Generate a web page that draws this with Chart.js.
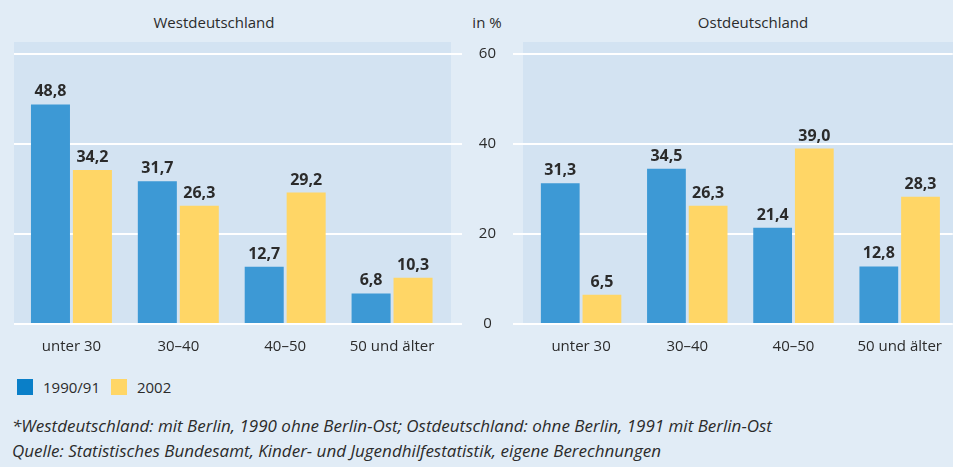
<!DOCTYPE html>
<html>
<head>
<meta charset="utf-8">
<script src="https://cdn.jsdelivr.net/npm/chart.js@4.4.1/dist/chart.umd.min.js"></script>
<style>
  html, body { margin: 0; padding: 0; background: #e1ecf6; }
  #wrap { position: relative; width: 953px; height: 467px; overflow: hidden; background: #e1ecf6;
          font-family: "Open Sans", sans-serif; color: #2b2b2b; }
  .box { position: absolute; }
  .ttl { position: absolute; font-size: 15px; transform: translateX(-50%); white-space: nowrap; }
  .legend { position: absolute; left: 17px; top: 377px; font-size: 15px; display: flex; align-items: center; }
  .legend span.sw { display: inline-block; width: 16px; height: 16px; margin-right: 10px; }
  .legend span.tx { margin-right: 11px; }
  .note { position: absolute; left: 12px; font-size: 17px; font-style: italic; white-space: nowrap; }
</style>
</head>
<body>
<div id="wrap">
  <div class="ttl" style="left:214px; top:12px;">Westdeutschland</div>
  <div class="ttl" style="left:487px; top:12px;">in %</div>
  <div class="ttl" style="left:753px; top:12px;">Ostdeutschland</div>
  <div class="box" style="left:0; top:0; width:470px; height:370px;"><canvas id="west"></canvas></div>
  <div class="box" style="left:451px; top:0; width:505px; height:370px;"><canvas id="east"></canvas></div>
  <div class="legend">
    <span class="sw" style="background:#0a7fc8"></span><span class="tx">1990/91</span>
    <span class="sw" style="background:#ffd666"></span><span class="tx">2002</span>
  </div>
  <div class="note" style="top:414px;">*Westdeutschland: mit Berlin, 1990 ohne Berlin-Ost; Ostdeutschland: ohne Berlin, 1991 mit Berlin-Ost</div>
  <div class="note" style="top:439px;">Quelle: Statistisches Bundesamt, Kinder- und Jugendhilfestatistik, eigene Berechnungen</div>
</div>
<script>
const categories = ['unter 30', '30–40', '40–50', '50 und älter'];
const years = ['1990/91', '2002'];
const west1990 = [48.8, 31.7, 12.7, 6.8];
const west2002 = [34.2, 26.3, 29.2, 10.3];
const east1991 = [31.3, 34.5, 21.4, 12.8];
const east2002 = [6.5, 26.3, 39.0, 28.3];
const yTicks = [0, 20, 40, 60];

const blue = '#3d99d5';
const yellow = '#ffd666';
const plotBg = '#d3e3f2';
const textCol = '#2b2b2b';

// plot background + small gridline stub on the left
const plotBgPlugin = {
    id: 'plotBg',
    beforeDraw(chart, args, opts) {
        const { ctx, chartArea } = chart;
        const y = chart.scales.y;
        ctx.save();
        ctx.fillStyle = plotBg;
        const left = chartArea.left - opts.padLeft;
        const right = chartArea.right + opts.padRight;
        ctx.fillRect(left, chartArea.top - 12, right - left, chartArea.bottom - chartArea.top + 12);
        if (opts.stub) {
            ctx.strokeStyle = '#ffffff';
            ctx.lineWidth = 2;
            yTicks.forEach(v => {
                const py = y.getPixelForValue(v);
                ctx.beginPath();
                ctx.moveTo(left, py);
                ctx.lineTo(chartArea.left, py);
                ctx.stroke();
            });
        }
        ctx.restore();
    }
};

// value labels above bars, German decimal comma
const valueLabels = {
    id: 'valueLabels',
    afterDatasetsDraw(chart) {
        const { ctx } = chart;
        ctx.save();
        ctx.font = 'bold 16px "Open Sans", sans-serif';
        ctx.fillStyle = textCol;
        ctx.textAlign = 'center';
        ctx.textBaseline = 'alphabetic';
        chart.data.datasets.forEach((ds, i) => {
            chart.getDatasetMeta(i).data.forEach((bar, j) => {
                const txt = ds.data[j].toFixed(1).replace('.', ',');
                ctx.fillText(txt, bar.x, bar.y - 8);
            });
        });
        ctx.restore();
    }
};

function makeChart(id, a, b, isEast) {
    const yScale = isEast ? {
        position: 'left',
        min: 0, max: 60,
        afterBuildTicks: s => { s.ticks = yTicks.map(v => ({ value: v })); },
        afterFit: s => { s.width = 77; },
        ticks: {
            crossAlign: 'center', padding: 17,
            color: textCol,
            font: { family: '"Open Sans", sans-serif', size: 15 }
        },
        grid: { color: '#ffffff', lineWidth: 2, drawTicks: true, tickLength: 15 },
        border: { display: false }
    } : {
        position: 'right',
        min: 0, max: 60,
        afterBuildTicks: s => { s.ticks = yTicks.map(v => ({ value: v })); },
        afterFit: s => { s.width = 16.5; },
        ticks: { display: false },
        grid: { color: '#ffffff', lineWidth: 2, drawTicks: true, tickLength: 16.5 },
        border: { display: false }
    };
    return new Chart(document.getElementById(id), {
        type: 'bar',
        data: {
            labels: categories,
            datasets: [
                { label: years[0], data: a, backgroundColor: blue },
                { label: years[1], data: b, backgroundColor: yellow }
            ]
        },
        options: {
            responsive: true,
            maintainAspectRatio: false,
            animation: false,
            layout: { padding: isEast ? { left: 0, right: 0.5, top: 54, bottom: 0 } : { left: 18, right: 8, top: 54, bottom: 0 } },
            datasets: { bar: { categoryPercentage: 84 / 107, barPercentage: 0.93 } },
            plugins: {
                legend: { display: false },
                tooltip: { enabled: false },
                plotBg: isEast ? { padLeft: 5, padRight: 10, stub: false } : { padLeft: 4, padRight: 5.5, stub: true }
            },
            scales: {
                x: {
                    grid: { display: false, drawTicks: false },
                    border: { display: false },
                    afterFit: s => { s.height = 46; },
                    ticks: {
                        padding: 14, color: textCol,
                        font: { family: '"Open Sans", sans-serif', size: 15 }
                    }
                },
                y: yScale
            }
        },
        plugins: [plotBgPlugin, valueLabels]
    });
}

makeChart('west', west1990, west2002, false);
makeChart('east', east1991, east2002, true);
</script>
</body>
</html>
